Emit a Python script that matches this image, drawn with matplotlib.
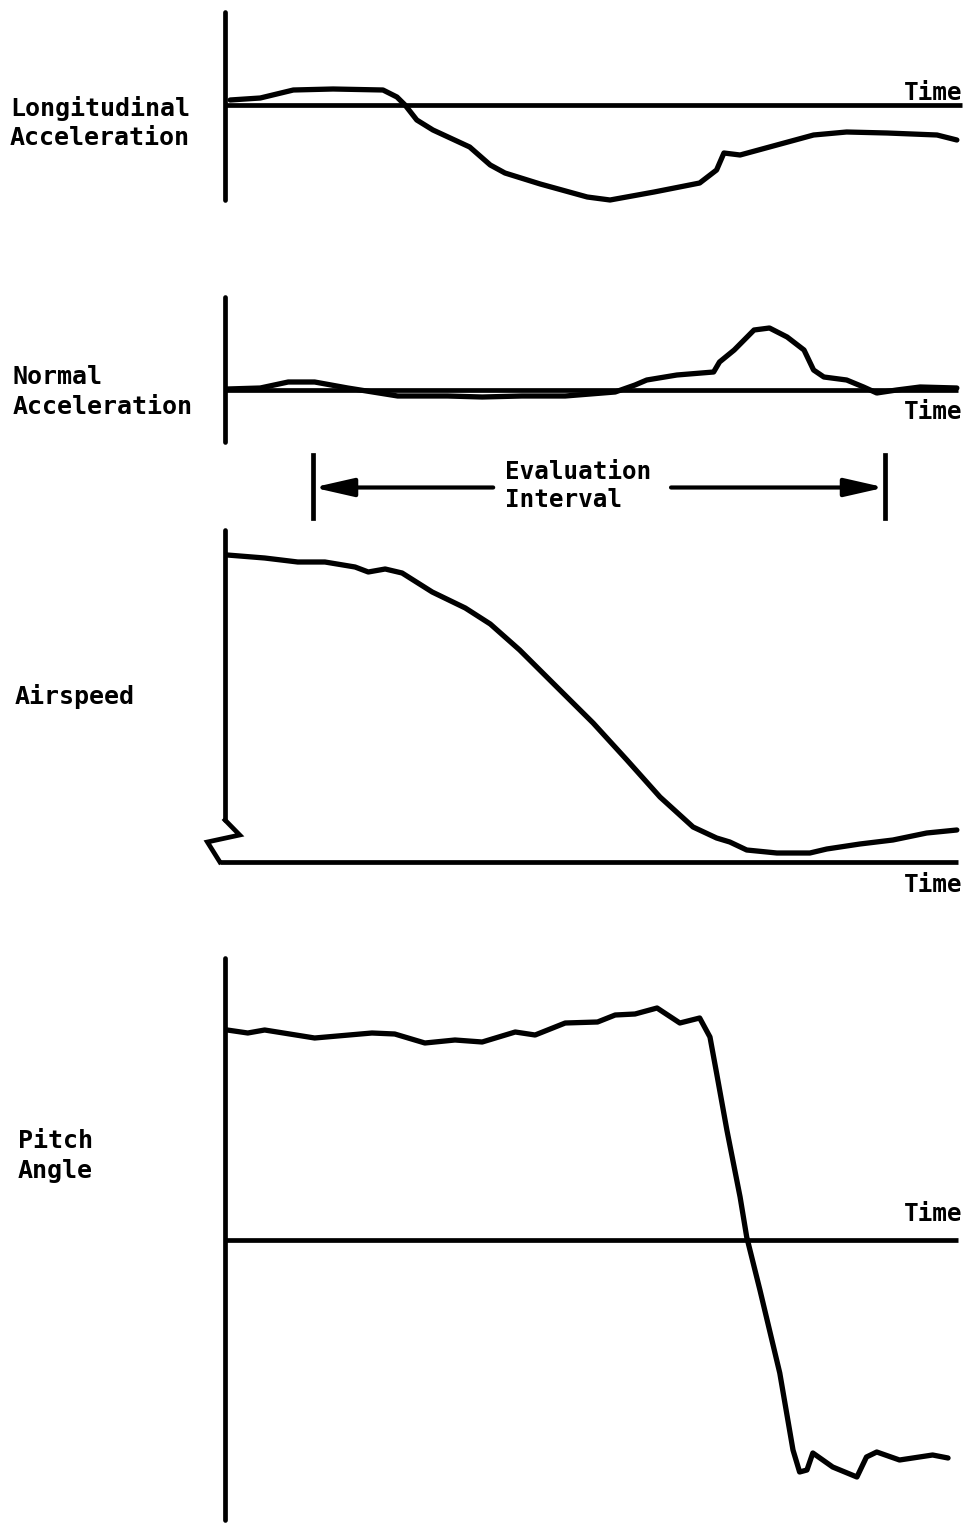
import matplotlib
matplotlib.use("Agg")
import matplotlib.pyplot as plt

# ---------------- data (time in arbitrary units 0..100) ----------------
long_t = [0.7, 4.8, 9.3, 14.7, 21.5, 23.4, 24.5, 26.1, 28.3, 33.3, 36.1, 38.1, 42.9,
          49.3, 52.4, 58.4, 64.6, 66.9, 67.9, 70.1, 74.1, 80.1, 84.6, 90.1, 96.9, 99.6]
long_v = [0.5, 0.7, 1.5, 1.6, 1.5, 0.8, 0.0, -1.5, -2.5, -4.2, -6.0, -6.8, -7.9,
          -9.2, -9.5, -8.7, -7.8, -6.5, -4.8, -5.0, -4.2, -3.0, -2.7, -2.8, -3.0, -3.5]

norm_t = [0.3, 4.8, 8.6, 12.2, 16.7, 23.5, 30.3, 35.0, 40.4, 46.3, 53.1, 55.8, 57.4,
          61.5, 66.5, 67.3, 69.3, 72.0, 74.1, 76.5, 78.8, 80.1, 81.5, 84.6, 86.9,
          88.7, 91.4, 94.6, 99.6]
norm_v = [0.1, 0.2, 0.8, 0.8, 0.2, -0.6, -0.6, -0.7, -0.6, -0.6, -0.2, 0.5, 1.0,
          1.5, 1.8, 2.8, 4.0, 6.0, 6.2, 5.3, 4.0, 2.0, 1.3, 1.0, 0.3,
          -0.3, 0.0, 0.3, 0.2]

air_t = [0.3, 5.4, 9.9, 13.6, 17.7, 19.5, 21.8, 24.1, 28.2, 32.7, 36.1, 40.1,
         45.3, 50.1, 54.7, 59.2, 63.7, 66.9, 68.7, 71.0, 75.1, 79.6, 81.9, 86.4,
         90.9, 95.5, 99.6]
air_v = [30.7, 30.4, 30.0, 30.0, 29.5, 29.0, 29.3, 28.9, 27.0, 25.4, 23.8, 21.2,
         17.4, 13.9, 10.2, 6.5, 3.5, 2.4, 2.0, 1.2, 0.9, 0.9, 1.3, 1.8,
         2.2, 2.9, 3.2]

pitch_t = [0.3, 3.1, 5.4, 12.2, 20.0, 23.1, 27.2, 31.3, 35.0, 39.5, 42.2, 46.3, 50.7,
           53.1, 55.8, 58.8, 61.9, 64.6, 66.0, 66.9, 68.3, 70.1, 71.0, 72.8, 75.5,
           77.3, 78.2, 79.2, 80.0, 82.7, 86.0, 87.3, 88.7, 91.8, 96.3, 98.4]
pitch_v = [21.0, 20.7, 21.0, 20.2, 20.7, 20.6, 19.7, 20.0, 19.8, 20.8, 20.5, 21.7, 21.8,
           22.5, 22.6, 23.2, 21.7, 22.2, 20.3, 16.7, 11.0, 4.3, 0.3, -5.0, -13.3,
           -21.0, -23.2, -23.0, -21.3, -22.7, -23.7, -21.7, -21.2, -22.0, -21.5, -21.8]

eval_start, eval_end = 12.0, 89.8

panel_labels = ["Longitudinal\nAcceleration", "Normal\nAcceleration", "Airspeed", "Pitch\nAngle"]
time_label = "Time"
eval_label = "Evaluation\nInterval"

# ---------------- figure ----------------
W, H = 974, 1524
fig = plt.figure(figsize=(W / 100, H / 100), dpi=100)
fig.patch.set_facecolor("white")

FONT = dict(family="DejaVu Sans Mono", weight="bold", color="black")
LW = 3.8
AXLW = 3.4


def px_axes(top, bottom, left=225, right=962):
    ax = fig.add_axes([left / W, 1 - bottom / H, (right - left) / W, (bottom - top) / H])
    ax.set_facecolor("none")
    for s in ("top", "right", "bottom"):
        ax.spines[s].set_visible(False)
    ax.spines["left"].set_linewidth(AXLW)
    ax.spines["left"].set_capstyle("round")
    ax.set_xticks([])
    ax.set_yticks([])
    ax.set_xlim(0, 100.3)
    return ax


def trace(ax, t, v):
    ax.plot(t, v, color="black", lw=LW, solid_capstyle="round",
            solid_joinstyle="round", clip_on=False)


def time_axis(ax, t0, t1):
    ax.plot([t0, t1], [0, 0], color="black", lw=AXLW, solid_capstyle="butt", clip_on=False)


# Panel 1: longitudinal acceleration
ax1 = px_axes(12, 200)
ax1.set_ylim(-9.5, 9.3)
time_axis(ax1, 0, 100.3)
trace(ax1, long_t, long_v)

# Panel 2: normal acceleration
ax2 = px_axes(297, 442)
ax2.set_ylim(-5.2, 9.3)
time_axis(ax2, 0, 99.8)
trace(ax2, norm_t, norm_v)

# Panel 3: airspeed (broken axis)
ax3 = px_axes(530, 862)
ax3.set_ylim(0, 33.2)
ax3.spines["left"].set_bounds(4.2, 33.2)
brk_x = [0.0, 2.0, -2.4, -0.7]
brk_y = [4.2, 2.7, 2.0, 0.0]
ax3.plot(brk_x, brk_y, color="black", lw=AXLW, solid_joinstyle="miter", clip_on=False)
time_axis(ax3, -0.7, 99.8)
trace(ax3, air_t, air_v)

# Panel 4: pitch angle
ax4 = px_axes(958, 1520)
ax4.set_ylim(-28.0, 28.2)
time_axis(ax4, 0, 99.7)
trace(ax4, pitch_t, pitch_v)

# Evaluation interval
axe = px_axes(450, 525)
axe.spines["left"].set_visible(False)
axe.set_ylim(0, 1)
for tt in (eval_start, eval_end):
    axe.plot([tt, tt], [0.1, 0.93], color="black", lw=AXLW, clip_on=False)
arrow_kw = dict(arrowstyle="-|>,head_length=1.1,head_width=0.25", lw=3.0, color="black",
                shrinkA=0, shrinkB=0, mutation_scale=22)
axe.annotate("", xy=(eval_start, 0.5), xytext=(36.5, 0.5), arrowprops=arrow_kw)
axe.annotate("", xy=(eval_end, 0.5), xytext=(60.7, 0.5), arrowprops=arrow_kw)
axe.text(38.1, 0.52, eval_label, ha="left", va="center", fontsize=17.5,
         linespacing=1.2, **FONT)

# Panel labels
fig.text(10 / W, 1 - 123 / H, panel_labels[0], ha="left", va="center", fontsize=18,
         linespacing=1.3, **FONT)
fig.text(13 / W, 1 - 392 / H, panel_labels[1], ha="left", va="center", fontsize=18,
         linespacing=1.3, **FONT)
fig.text(15 / W, 1 - 697 / H, panel_labels[2], ha="left", va="center", fontsize=18,
         linespacing=1.3, **FONT)
fig.text(18 / W, 1 - 1156 / H, panel_labels[3], ha="left", va="center", fontsize=18,
         linespacing=1.3, **FONT)

# Time labels
for ybase in (100, 419, 892, 1221):
    fig.text(962 / W, 1 - ybase / H, time_label, ha="right", va="baseline",
             fontsize=17.5, **FONT)

fig.savefig("out.png", dpi=100, facecolor="white")
